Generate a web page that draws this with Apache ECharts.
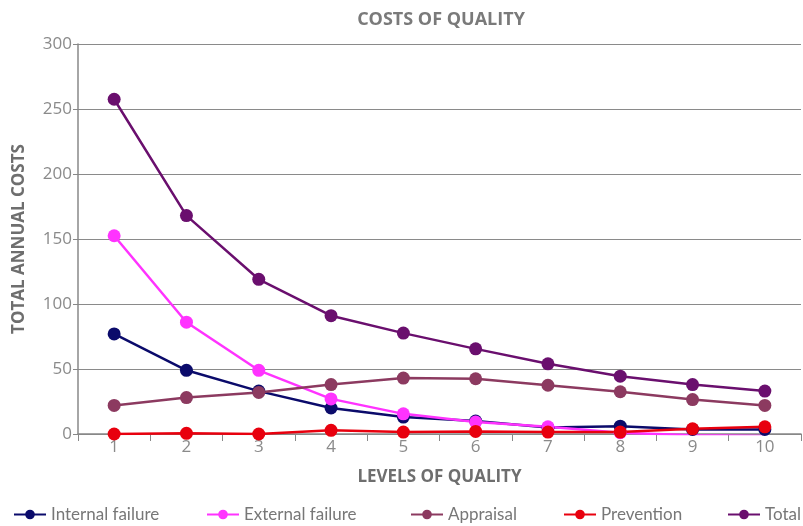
<!DOCTYPE html>
<html><head><meta charset="utf-8">
<script src="https://cdn.jsdelivr.net/npm/echarts@6/dist/echarts.min.js"></script>
<style>html,body{margin:0;padding:0;background:#fff}#c{width:803px;height:526px}</style>
</head><body><div id="c"></div>
<script>
const categories = ['1','2','3','4','5','6','7','8','9','10'];
const internalFailure = [77, 49, 33, 20, 13, 10, 5, 6, 3.5, 3.5];
const externalFailure = [152.5, 86, 49, 27, 15.5, 9.2, 5.5, 1, -1, -1.5];
const appraisal = [22, 28, 32, 38, 43, 42.5, 37.5, 32.5, 26.5, 22];
const prevention = [0, 0.5, 0, 2.8, 1.5, 2, 1.5, 1.5, 4, 5.5];
const total = [257.5, 168, 119, 91, 77.6, 65.5, 54, 44.5, 38, 33];
const yTicks = [0, 50, 100, 150, 200, 250, 300];

const names = ['Internal failure','External failure','Appraisal','Prevention','Total'];
const colors = ['#0b0b6b','#ff33ff','#8c3a60','#e8000e','#6a0f6e'];
const datas = [internalFailure, externalFailure, appraisal, prevention, total];
const legendLefts = [13, 206, 410, 563, 727];

const chart = echarts.init(document.getElementById('c'));
chart.setOption({
  animation: false,
  textStyle: { fontFamily: 'Open Sans' },
  title: { text: 'COSTS OF QUALITY', left: 436, textAlign: 'center', top: 6,
    textStyle: { fontSize: 18, fontWeight: 'bold', color: '#7a7a7a', fontFamily: 'Open Sans' } },
  legend: names.map((n, i) => ({
    top: 506, left: legendLefts[i], itemWidth: 32, itemHeight: 12, itemGap: 0, padding: 0,
    data: [n],
    textStyle: { fontSize: 17, color: '#777', fontFamily: 'Lato' }
  })),
  grid: { left: 78, right: 2, top: 44, bottom: 92 },
  xAxis: { type: 'category', data: categories, boundaryGap: true,
    name: 'LEVELS OF QUALITY', nameLocation: 'middle', nameGap: 35,
    nameTextStyle: { fontSize: 17, fontWeight: 'bold', color: '#6e6e6e' },
    axisLine: { lineStyle: { color: '#888', width: 1.5 } },
    axisTick: { show: true, length: 7, lineStyle: { color: '#888' } },
    axisLabel: { fontSize: 17, color: '#8a8a8a', margin: 5 } },
  yAxis: { type: 'value', min: 0, max: 300, interval: 50,
    name: 'TOTAL ANNUAL COSTS', nameLocation: 'middle', nameGap: 50,
    nameTextStyle: { fontSize: 17, fontWeight: 'bold', color: '#6e6e6e' },
    axisLine: { show: true, lineStyle: { color: '#888', width: 1.5 } },
    axisTick: { show: true, length: 5, lineStyle: { color: '#888' } },
    axisLabel: { fontSize: 17, color: '#8a8a8a', margin: 6,
      formatter: v => yTicks.includes(v) ? String(v) : '' },
    splitLine: { lineStyle: { color: '#8a8a8a', width: 1.2 } } },
  series: names.map((n, i) => ({
    name: n, type: 'line', data: datas[i],
    symbol: 'circle', symbolSize: 13,
    itemStyle: { color: colors[i] },
    lineStyle: { color: colors[i], width: 2.5 }
  }))
});
</script></body></html>
